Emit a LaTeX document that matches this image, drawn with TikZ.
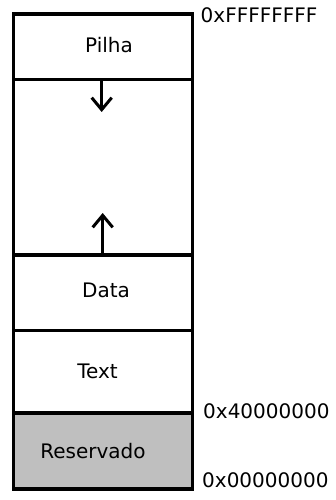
\documentclass[tikz,border=0pt]{standalone}
\usepackage{fontspec}
\setmainfont{DejaVu Sans}
\usetikzlibrary{arrows.meta}
\tikzset{
  seg/.style={draw=black, line width=3.2pt},
  lbl/.style={anchor=base, inner sep=0pt, font=\fontsize{20}{24}\selectfont},
  addr/.style={anchor=base west, inner sep=0pt, font=\fontsize{20}{24}\selectfont},
  growth/.style={line width=3pt, -{Straight Barb[length=12pt,width=20pt,line width=3pt,line join=miter]}}
}
\begin{document}
\begin{tikzpicture}[x=1pt, y=-1pt]
  \useasboundingbox (0,0) rectangle (336,500);
  % segment boundaries
  \coordinate (tl) at (13.5,14);
  \coordinate (br) at (192.7,489);
  % reserved area
  \fill[gray!50] (13.5,413) rectangle (192.7,489);
  % horizontal dividers
  \draw[seg] (13.5,79.3) -- (192.7,79.3);
  \draw[seg] (13.5,255) -- (192.7,255);
  \draw[seg] (13.5,330.5) -- (192.7,330.5);
  \draw[seg] (13.5,413) -- (192.7,413);
  % outer frame
  \draw[seg, line join=miter] (tl) rectangle (br);
  % segment names
  \node[lbl] (pilha) at (109,52.7) {Pilha};
  \node[lbl] (data) at (106,297) {Data};
  \node[lbl] (text) at (97.5,378) {Text};
  \node[lbl] (res) at (93,458) {Reservado};
  % addresses
  \node[addr] (top) at (200.5,23) {0xFFFFFFFF};
  \node[addr] (mid) at (203,418) {0x40000000};
  \node[addr] (bot) at (202,487) {0x00000000};
  % growth directions of stack and heap
  \coordinate (s0) at (101.7,79.3);
  \coordinate (s1) at (101.7,112);
  \coordinate (h0) at (102.7,255);
  \coordinate (h1) at (102.7,213);
  \draw[growth] (s0) -- (s1);
  \draw[growth] (h0) -- (h1);
\end{tikzpicture}
\end{document}
